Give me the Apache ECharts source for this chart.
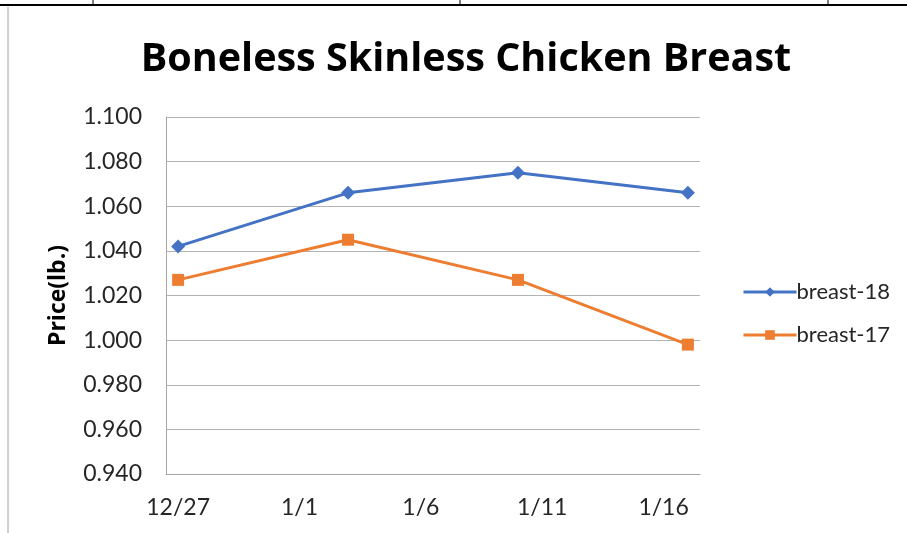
<!DOCTYPE html>
<html>
<head>
<meta charset="utf-8">
<script src="https://cdn.jsdelivr.net/npm/echarts@6/dist/echarts.min.js"></script>
<style>html,body{margin:0;padding:0;background:#fff}#c{width:907px;height:533px}</style>
</head>
<body>
<div id="c"></div>
<script>
// Daily categories from 12/27 to 1/17
const days = ['12/27','12/28','12/29','12/30','12/31','1/1','1/2','1/3','1/4','1/5','1/6','1/7','1/8','1/9','1/10','1/11','1/12','1/13','1/14','1/15','1/16','1/17'];
// Observed dates and prices
const obsDates = ['12/27','1/3','1/10','1/17'];
const breast18 = [1.042, 1.066, 1.075, 1.066];
const breast17 = [1.027, 1.045, 1.027, 0.998];
const yTicks = { min: 0.94, max: 1.10, interval: 0.02 };

function toDaily(vals) {
  return days.map(d => { const i = obsDates.indexOf(d); return i >= 0 ? vals[i] : null; });
}

const font = 'Lato, "Open Sans", sans-serif';
const boldFont = '"Open Sans", Lato, sans-serif';
const chart = echarts.init(document.getElementById('c'));
chart.setOption({
  animation: false,
  backgroundColor: '#fff',
  title: {
    text: 'Boneless Skinless Chicken Breast',
    left: 461, top: 35, textAlign: 'center',
    textStyle: { fontFamily: boldFont, fontWeight: 'bold', fontSize: 39.5, color: '#000' }
  },
  legend: {
    orient: 'vertical', left: 742, top: 281, padding: 0,
    itemWidth: 53, itemHeight: 12, itemGap: 21,
    lineStyle: { width: 3 },
    textStyle: { fontFamily: font, fontSize: 22, lineHeight: 22, color: '#262626', padding: [0,0,0,-5] },
    data: ['breast-18', 'breast-17']
  },
  grid: { left: 166, right: 207, top: 117, bottom: 59, containLabel: false },
  xAxis: {
    type: 'category', data: days, boundaryGap: true,
    axisLine: { lineStyle: { color: '#a6a6a6', width: 1 } },
    axisTick: { show: false },
    axisLabel: { interval: 4, margin: 22, fontFamily: font, fontSize: 23, color: '#262626' }
  },
  yAxis: {
    type: 'value', min: yTicks.min, max: yTicks.max, interval: yTicks.interval,
    name: 'Price(lb.)', nameLocation: 'middle', nameGap: 96, nameRotate: 90,
    nameTextStyle: { fontFamily: boldFont, fontWeight: 'bold', fontSize: 23, color: '#000' },
    axisLine: { show: true, lineStyle: { color: '#a6a6a6', width: 1 } },
    axisTick: { show: false },
    splitLine: { lineStyle: { color: '#b3b3b3', width: 1 } },
    axisLabel: { margin: 24, fontFamily: font, fontSize: 23, color: '#262626',
      formatter: v => v.toFixed(3) }
  },
  series: [
    { name: 'breast-18', type: 'line', data: toDaily(breast18), connectNulls: true,
      symbol: 'diamond', symbolSize: 14,
      lineStyle: { color: '#4472C4', width: 3 }, itemStyle: { color: '#4472C4' } },
    { name: 'breast-17', type: 'line', data: toDaily(breast17), connectNulls: true,
      symbol: 'rect', symbolSize: 12,
      lineStyle: { color: '#ED7D31', width: 3 }, itemStyle: { color: '#ED7D31' } }
  ],
  graphic: [
    { type: 'line', shape: { x1: 0, y1: 5, x2: 907, y2: 5 }, style: { stroke: '#000', lineWidth: 2 } },
    { type: 'line', shape: { x1: 93, y1: 0, x2: 93, y2: 5 }, style: { stroke: '#000', lineWidth: 1 } },
    { type: 'line', shape: { x1: 460, y1: 0, x2: 460, y2: 5 }, style: { stroke: '#000', lineWidth: 1 } },
    { type: 'line', shape: { x1: 828, y1: 0, x2: 828, y2: 5 }, style: { stroke: '#000', lineWidth: 1 } },
    { type: 'line', shape: { x1: 8, y1: 7, x2: 8, y2: 533 }, style: { stroke: '#a0a0a0', lineWidth: 1 } }
  ]
});
</script>
</body>
</html>
